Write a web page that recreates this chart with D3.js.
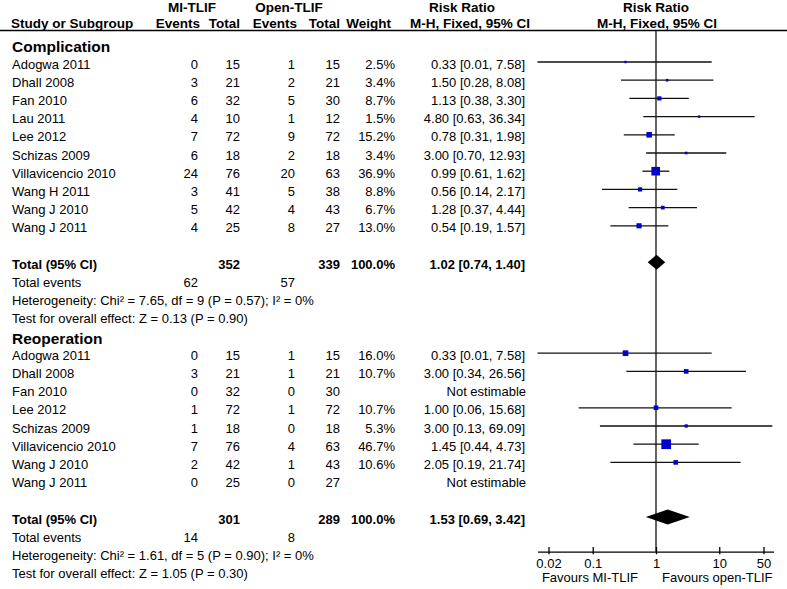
<!DOCTYPE html>
<html>
<head>
<meta charset="utf-8">
<script src="https://cdn.jsdelivr.net/npm/d3@7"></script>
<style>
  html, body { margin: 0; padding: 0; background: #fff; }
  svg { display: block; font-family: "Liberation Sans", Arial, sans-serif; }
</style>
</head>
<body>
<svg id="chart" width="787" height="589"></svg>
<script>
// ---------- data ----------
const compStudies = ["Adogwa 2011", "Dhall 2008", "Fan 2010", "Lau 2011", "Lee 2012", "Schizas 2009", "Villavicencio 2010", "Wang H 2011", "Wang J 2010", "Wang J 2011"];
const compMiEvents = [0, 3, 6, 4, 7, 6, 24, 3, 5, 4];
const compMiTotal = [15, 21, 32, 10, 72, 18, 76, 41, 42, 25];
const compOpenEvents = [1, 2, 5, 1, 9, 2, 20, 5, 4, 8];
const compOpenTotal = [15, 21, 30, 12, 72, 18, 63, 38, 43, 27];
const compWeight = [2.5, 3.4, 8.7, 1.5, 15.2, 3.4, 36.9, 8.8, 6.7, 13.0];
const compRR = [0.33, 1.50, 1.13, 4.80, 0.78, 3.00, 0.99, 0.56, 1.28, 0.54];
const compLo = [0.01, 0.28, 0.38, 0.63, 0.31, 0.70, 0.61, 0.14, 0.37, 0.19];
const compHi = [7.58, 8.08, 3.30, 36.34, 1.98, 12.93, 1.62, 2.17, 4.44, 1.57];
const compTotal = { mi: 352, open: 339, rr: 1.02, lo: 0.74, hi: 1.40, miEv: 62, openEv: 57,
  het: "Heterogeneity: Chi\u00B2 = 7.65, df = 9 (P = 0.57); I\u00B2 = 0%",
  test: "Test for overall effect: Z = 0.13 (P = 0.90)" };

const reopStudies = ["Adogwa 2011", "Dhall 2008", "Fan 2010", "Lee 2012", "Schizas 2009", "Villavicencio 2010", "Wang J 2010", "Wang J 2011"];
const reopMiEvents = [0, 3, 0, 1, 1, 7, 2, 0];
const reopMiTotal = [15, 21, 32, 72, 18, 76, 42, 25];
const reopOpenEvents = [1, 1, 0, 1, 0, 4, 1, 0];
const reopOpenTotal = [15, 21, 30, 72, 18, 63, 43, 27];
const reopWeight = [16.0, 10.7, null, 10.7, 5.3, 46.7, 10.6, null];
const reopRR = [0.33, 3.00, null, 1.00, 3.00, 1.45, 2.05, null];
const reopLo = [0.01, 0.34, null, 0.06, 0.13, 0.44, 0.19, null];
const reopHi = [7.58, 26.56, null, 15.68, 69.09, 4.73, 21.74, null];
const reopTotal = { mi: 301, open: 289, rr: 1.53, lo: 0.69, hi: 3.42, miEv: 14, openEv: 8,
  het: "Heterogeneity: Chi\u00B2 = 1.61, df = 5 (P = 0.90); I\u00B2 = 0%",
  test: "Test for overall effect: Z = 1.05 (P = 0.30)" };

const axisTicks = [0.02, 0.1, 1, 10, 50];
const axisTickLabels = ["0.02", "0.1", "1", "10", "50"];

// ---------- scales ----------
const svg = d3.select("#chart");
const x = d3.scaleLog().domain([0.0134, 72]).range([537.5, 773.5]).clamp(true);
const y = d3.scaleLinear().domain([0, 1]).range([62, 80.2]); // row index -> mark centre

const fmt2 = d3.format(".2f");
const ciText = (r, l, h) => `${fmt2(r)} [${fmt2(l)}, ${fmt2(h)}]`;

const col = { miEv: 198, miTot: 240, opEv: 295, opTot: 340, weight: 395, ci: 525 };
const FS = 13;
const HFS = 13.5;

function txt(xp, yp, s, opts = {}) {
  return svg.append("text")
    .attr("x", xp).attr("y", yp)
    .attr("font-size", opts.size || FS)
    .attr("font-weight", opts.bold ? "bold" : "normal")
    .attr("text-anchor", opts.anchor || "start")
    .attr("fill", "#000")
    .text(s);
}

// ---------- header ----------
txt(192, 12, "MI-TLIF", { bold: true, anchor: "middle", size: HFS });
txt(289, 12, "Open-TLIF", { bold: true, anchor: "middle", size: HFS });
txt(462, 12, "Risk Ratio", { bold: true, anchor: "middle", size: HFS });
txt(656, 12, "Risk Ratio", { bold: true, anchor: "middle", size: HFS });
txt(11, 28, "Study or Subgroup", { bold: true, size: HFS });
txt(200, 28, "Events", { bold: true, anchor: "end", size: HFS });
txt(240, 28, "Total", { bold: true, anchor: "end", size: HFS });
txt(297, 28, "Events", { bold: true, anchor: "end", size: HFS });
txt(340, 28, "Total", { bold: true, anchor: "end", size: HFS });
txt(391, 28, "Weight", { bold: true, anchor: "end", size: HFS });
txt(530, 28, "M-H, Fixed, 95% CI", { bold: true, anchor: "end", size: HFS });
txt(657, 28, "M-H, Fixed, 95% CI", { bold: true, anchor: "middle", size: HFS });

svg.append("line").attr("x1", 0).attr("x2", 787).attr("y1", 30.5).attr("y2", 30.5)
  .attr("stroke", "#000").attr("stroke-width", 1.6);

// vertical line of no effect
svg.append("line").attr("x1", x(1)).attr("x2", x(1)).attr("y1", 31).attr("y2", 551.7)
  .attr("stroke", "#222").attr("stroke-width", 1.4);

// ---------- groups ----------
function drawGroup(headIdx, title, startIdx, studies, miE, miT, opE, opT, w, rr, lo, hi, tot) {
  txt(12, y(headIdx) + 8.5, title, { bold: true, size: 15.5 });
  studies.forEach((s, i) => {
    const r = startIdx + i;
    const yc = y(r), yb = yc + 6.5;
    txt(12, yb, s);
    txt(col.miEv, yb, miE[i], { anchor: "end" });
    txt(col.miTot, yb, miT[i], { anchor: "end" });
    txt(col.opEv, yb, opE[i], { anchor: "end" });
    txt(col.opTot, yb, opT[i], { anchor: "end" });
    if (rr[i] == null) {
      txt(col.ci + 1, yb, "Not estimable", { anchor: "end" });
      return;
    }
    txt(col.weight, yb, w[i].toFixed(1) + "%", { anchor: "end" });
    txt(col.ci, yb, ciText(rr[i], lo[i], hi[i]), { anchor: "end" });
    svg.append("line").attr("x1", x(lo[i])).attr("x2", x(hi[i]))
      .attr("y1", yc).attr("y2", yc).attr("stroke", "#111").attr("stroke-width", 1.3);
    const side = Math.max(2.4, 1.42 * Math.sqrt(w[i]));
    svg.append("rect").attr("x", x(rr[i]) - side / 2).attr("y", yc - side / 2)
      .attr("width", side).attr("height", side).attr("fill", "#0000CC");
  });
  const tr = startIdx + studies.length + 1;
  const yc = y(tr), yb = yc + 6.5;
  txt(12, yb, "Total (95% CI)", { bold: true });
  txt(col.miTot, yb, tot.mi, { bold: true, anchor: "end" });
  txt(col.opTot, yb, tot.open, { bold: true, anchor: "end" });
  txt(col.weight, yb, "100.0%", { bold: true, anchor: "end" });
  txt(col.ci, yb, ciText(tot.rr, tot.lo, tot.hi), { bold: true, anchor: "end" });
  const dh = 7.5;
  svg.append("path")
    .attr("d", `M${x(tot.lo)},${yc} L${x(tot.rr)},${yc - dh} L${x(tot.hi)},${yc} L${x(tot.rr)},${yc + dh} Z`)
    .attr("fill", "#000");
  txt(12, y(tr + 1) + 6.5, "Total events");
  txt(col.miEv, y(tr + 1) + 6.5, tot.miEv, { anchor: "end" });
  txt(col.opEv, y(tr + 1) + 6.5, tot.openEv, { anchor: "end" });
  txt(12, y(tr + 2) + 6.5, tot.het);
  txt(12, y(tr + 3) + 6.5, tot.test);
}

drawGroup(-1, "Complication", 0, compStudies, compMiEvents, compMiTotal, compOpenEvents, compOpenTotal,
  compWeight, compRR, compLo, compHi, compTotal);
drawGroup(15, "Reoperation", 16, reopStudies, reopMiEvents, reopMiTotal, reopOpenEvents, reopOpenTotal,
  reopWeight, reopRR, reopLo, reopHi, reopTotal);

// ---------- axis ----------
const axisY = 551.7;
const axis = d3.axisBottom(x).tickValues(axisTicks)
  .tickFormat((d, i) => axisTickLabels[i]).tickSizeOuter(0).tickSizeInner(0);
const gA = svg.append("g").attr("transform", `translate(0,${axisY})`).call(axis);
gA.select(".domain").attr("stroke", "#000").attr("stroke-width", 1.3);
gA.selectAll(".tick line").attr("y1", -4.7).attr("y2", 2.6).attr("stroke", "#000").attr("stroke-width", 1.3);
gA.selectAll(".tick text").attr("y", 16.3).attr("dy", null)
  .attr("font-size", FS).attr("fill", "#000")
  .attr("font-family", '"Liberation Sans", Arial, sans-serif');

txt(638, 582, "Favours MI-TLIF", { anchor: "end" });
txt(662, 582, "Favours open-TLIF", { anchor: "start" });
</script>
</body>
</html>
